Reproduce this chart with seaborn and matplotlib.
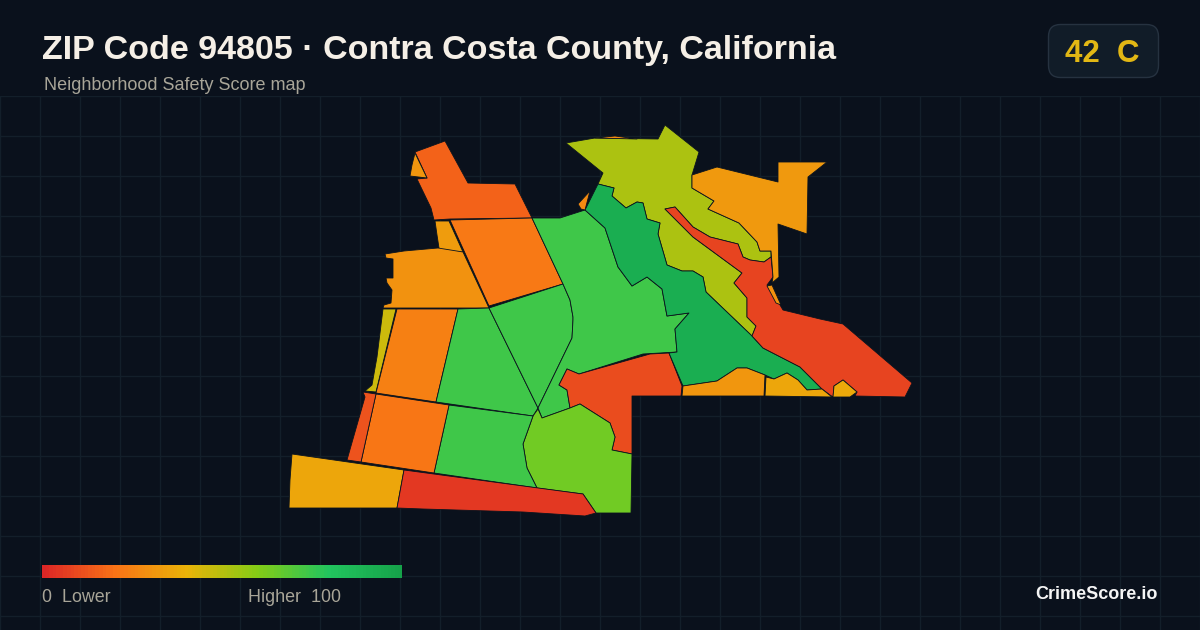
import numpy as np
import matplotlib
matplotlib.use("Agg")
import matplotlib.pyplot as plt
from matplotlib.patches import FancyBboxPatch
import seaborn as sns

# tract outlines (map pixels)
nw_top = [(415,152),(445,141),(468,183),(515,184),(532,218),(450,219),(434,220),(431,208),(417,179),(427,178)]
nw_tip = [(415,153),(427,178),(410,176),(412,165)]
north_mid = [(450,220),(532,218),(563,284),(489,306)]
west_small = [(435,221),(449,221),(463,252),(405,252),(404,251),(439,248),(437,235)]
west_shore = [(385,254),(404,251),(438,248),(463,252),(489,308),(383,308),(384,305),(391,303),(392,290),(387,283),(386,278),(393,278),(393,259),(386,258)]
shore_strip = [(383,309),(396,309),(376,392),(365,391),(372,385),(377,357)]
west_mid = [(397,309),(458,309),(436,402),(376,393)]
center_west = [(458,309),(489,308),(538,408),(533,416),(436,402)]
center_east = [(489,308),(563,284),(570,300),(573,317),(573,320),(572,338),(538,408)]
big_east = [(532,218),(560,218),(585,210),(605,228),(618,267),(632,286),(647,277),(662,289),(667,316),(689,313),(675,329),(677,352),(643,354),(579,374),(567,369),(559,385),(567,390),(570,408),(542,418),(538,408),(572,338),(573,320),(573,317),(570,300),(563,284)]
south_red = [(567,369),(579,374),(650,354),(669,353),(682,386),(681,396),(632,396),(632,454),(612,450),(615,437),(610,423),(580,404),(570,408),(567,390),(559,385)]
south_lime = [(580,404),(610,423),(615,437),(612,450),(632,454),(631,513),(596,513),(583,494),(537,488),(527,468),(523,444),(533,416),(538,409),(542,418),(570,408)]
south_green = [(449,405),(533,416),(523,444),(527,468),(537,488),(434,473)]
south_orange = [(376,394),(449,405),(434,473),(361,462)]
south_strip = [(363,392),(376,394),(361,462),(347,460),(365,397)]
sw_amber = [(292,454),(404,470),(397,508),(289,508),(290,480)]
sw_red = [(404,470),(583,494),(596,513),(585,516),(523,512),(423,509),(397,508)]
north_lime = [(566,143),(595,138),(658,139),(665,125),(699,152),(692,175),(692,188),(714,201),(708,209),(739,223),(757,242),(760,251),(771,251),(771,257),(764,262),(750,260),(743,257),(738,244),(710,237),(693,227),(675,207),(665,209),(693,237),(742,273),(734,283),(747,298),(747,317),(756,326),(752,336),(706,292),(703,277),(693,271),(682,271),(667,265),(658,234),(660,223),(647,219),(643,203),(637,202),(626,208),(612,196),(614,188),(598,184),(603,173)]
ridge_green = [(598,184),(614,188),(612,196),(626,208),(637,202),(643,203),(647,219),(660,223),(658,234),(667,265),(682,271),(693,271),(703,277),(706,292),(752,336),(763,348),(800,367),(822,389),(807,390),(798,380),(787,373),(774,379),(765,375),(747,368),(737,368),(717,381),(683,386),(669,353),(677,352),(675,329),(689,313),(667,316),(662,289),(647,277),(632,286),(618,267),(605,228),(585,210)]
east_red = [(665,209),(675,207),(693,227),(710,237),(738,244),(743,257),(750,260),(764,262),(771,257),(773,277),(767,285),(777,300),(783,310),(820,319),(843,324),(912,383),(905,397),(855,396),(857,392),(843,380),(834,386),(833,397),(830,395),(822,389),(800,367),(763,348),(752,336),(756,326),(747,317),(747,298),(734,283),(742,273),(693,237)]
ne_amber = [(692,175),(717,167),(778,182),(778,162),(827,162),(808,177),(807,234),(778,224),(779,277),(772,283),(773,277),(771,251),(760,251),(757,242),(739,223),(708,209),(714,201),(692,188)]
shore_sliver = [(767,286),(772,285),(781,305),(776,303)]
bottom_amber = [(683,386),(717,381),(737,368),(747,368),(765,375),(764,396),(682,396)]
bottom_yellow = [(766,377),(774,379),(787,373),(798,380),(807,390),(822,389),(832,397),(765,396)]
island_yellow = [(834,386),(843,380),(857,392),(850,397),(833,397)]
notch_orange = [(578,204),(590,191),(585,210),(581,209)]
top_sliver = [(595,138),(615,136),(637,139)]

tract_outlines = [nw_top, nw_tip, north_mid, west_small, west_shore, shore_strip, west_mid,
                  center_west, center_east, big_east, south_red, south_lime, south_green,
                  south_orange, south_strip, sw_amber, sw_red, north_lime, ridge_green,
                  east_red, ne_amber, shore_sliver, bottom_amber, bottom_yellow,
                  island_yellow, notch_orange, top_sliver]
tract_scores = [16, 31, 22, 33, 30, 46, 24,
                74, 74, 74, 10, 64, 74,
                21, 12, 36, 5, 52, 93,
                8, 32, 30, 31, 36,
                37, 27, 27]

legend_colors = ["#dc2626", "#f97316", "#eab308", "#84cc16", "#22c55e", "#16a34a"]
legend_scale = list(range(0, 101))

BG = "#0a111c"
GRID = "#131f2a"
LINE = "#0b131d"

sns.set_theme(style="dark", rc={"figure.facecolor": BG, "axes.facecolor": BG})
plt.rcParams["font.family"] = ["Liberation Sans", "DejaVu Sans"]
cmap = sns.blend_palette(legend_colors, as_cmap=True)

fig = plt.figure(figsize=(12, 6.3), dpi=100)

# map axes: grid only starts under the header
ax = fig.add_axes([0, 0, 1, 534 / 630])
ax.set_xlim(0, 1200)
ax.set_ylim(630, 96)
ax.set_xticks(range(0, 1201, 40))
ax.set_yticks(range(96, 631, 40))
ax.grid(True, color=GRID, lw=1)
ax.set_axisbelow(True)
ax.tick_params(length=0, labelbottom=False, labelleft=False)
sns.despine(ax=ax, left=True, bottom=True)

for outline, score in zip(tract_outlines, tract_scores):
    xs, ys = zip(*outline)
    ax.fill(xs, ys, facecolor=cmap(score / 100), edgecolor=LINE, lw=0.6, joinstyle="round")

# legend bar
cax = fig.add_axes([42 / 1200, 1 - 578 / 630, 360 / 1200, 13 / 630])
sns.heatmap([legend_scale], cmap=cmap, vmin=0, vmax=100, cbar=False,
            xticklabels=False, yticklabels=False, ax=cax)

# overlay for header, badge, labels
top = fig.add_axes([0, 0, 1, 1], facecolor="none")
top.set_xlim(0, 1200)
top.set_ylim(630, 0)
top.axis("off")
top.text(42, 59, "ZIP Code 94805 · Contra Costa County, California", color="#f5efe6",
         fontsize=24.5, fontweight="bold", va="baseline", ha="left")
top.text(44, 90.5, "Neighborhood Safety Score map", color="#a8a598", fontsize=12.95, va="baseline", ha="left")
top.add_patch(FancyBboxPatch((1048.5, 24.5), 110, 53, boxstyle="round,pad=0,rounding_size=12",
                             facecolor="#111c28", edgecolor="#263240", lw=1))
top.text(1102.5, 62, "42  C", color="#e2b714", fontsize=22.5, fontweight="bold", va="baseline", ha="center")
top.text(42, 602, "0  Lower", color="#a8a598", fontsize=12.9, va="baseline", ha="left")
top.text(341, 602, "Higher  100", color="#a8a598", fontsize=12.9, va="baseline", ha="right")
top.text(1158, 599, "CrimeScore.io", color="#f5f5f5", fontsize=13, fontweight="bold", va="baseline", ha="right")

fig.savefig("out.png", dpi=100, facecolor=BG)
